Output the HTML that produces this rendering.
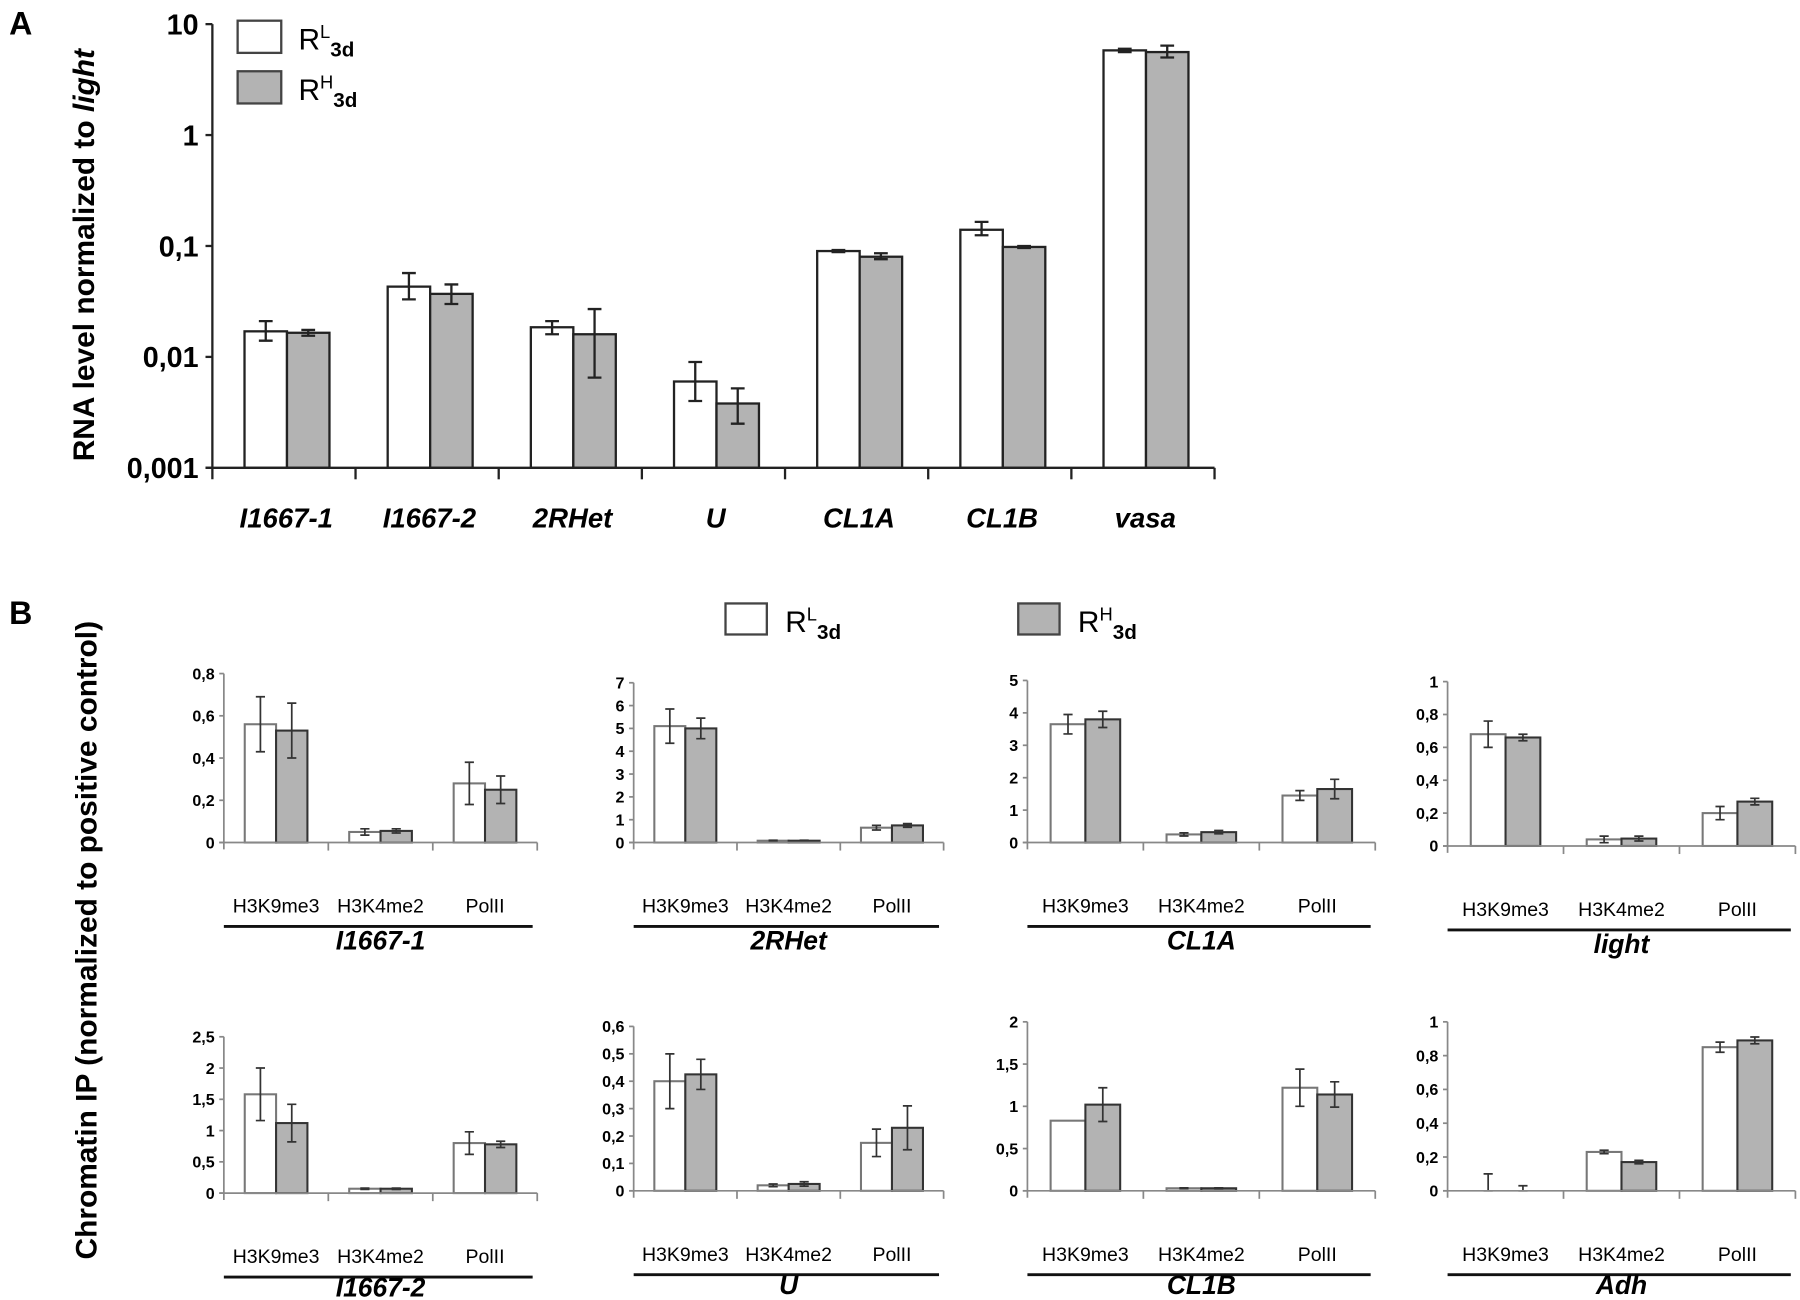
<!DOCTYPE html>
<html><head><meta charset="utf-8"><style>
html,body{margin:0;padding:0;background:#fff}
svg{display:block}
text{font-family:"Liberation Sans",sans-serif}
</style></head><body>
<svg id="fig" xmlns="http://www.w3.org/2000/svg" width="1800" height="1300" viewBox="0 0 1568 1131" preserveAspectRatio="none">
<text x="8" y="30" font-size="28" font-weight="bold">A</text>
<text x="8" y="543" font-size="28" font-weight="bold">B</text>
<g id="pa"></g>
<g id="pb"></g>
</svg>
<script>
// ---- Panel A data ----
const catsA = ["I1667-1","I1667-2","2RHet","U","CL1A","CL1B","vasa"];
const aL = [0.017,0.043,0.0185,0.006,0.09,0.14,5.8];
const aH = [0.0165,0.037,0.016,0.0038,0.08,0.098,5.6];
const aLlo = [0.014,0.033,0.016,0.004,0.088,0.125,5.6];
const aLhi = [0.021,0.057,0.021,0.009,0.092,0.165,6.0];
const aHlo = [0.0155,0.03,0.0065,0.0025,0.076,0.096,5.0];
const aHhi = [0.0175,0.045,0.027,0.0052,0.086,0.1,6.4];
const aTicks = [10,1,0.1,0.01,0.001];
const aTickLabels = ["10","1","0,1","0,01","0,001"];

// ---- Panel B data ----
const bGenes = ["I1667-1","2RHet","CL1A","light","I1667-2","U","CL1B","Adh"];
const bMarks = ["H3K9me3","H3K4me2","PolII"];
const bMax = [0.8,7,5,1,2.5,0.6,2,1];
const bStep = [0.2,1,1,0.2,0.5,0.1,0.5,0.2];
const bL = [[0.56,0.05,0.28],[5.1,0.08,0.65],[3.65,0.25,1.45],[0.68,0.04,0.2],[1.58,0.07,0.8],[0.4,0.02,0.175],[0.83,0.03,1.22],[0,0.23,0.85]];
const bH = [[0.53,0.055,0.25],[5.0,0.08,0.75],[3.8,0.32,1.65],[0.66,0.045,0.27],[1.12,0.07,0.78],[0.425,0.025,0.23],[1.02,0.03,1.14],[0,0.17,0.89]];
const bLe = [[0.13,0.015,0.1],[0.75,0.02,0.1],[0.3,0.05,0.15],[0.08,0.02,0.04],[0.42,0.01,0.18],[0.1,0.005,0.05],[0,0.005,0.22],[0.1,0.01,0.03]];
const bHe = [[0.13,0.01,0.065],[0.45,0.02,0.08],[0.25,0.05,0.3],[0.02,0.015,0.02],[0.3,0.01,0.05],[0.055,0.008,0.08],[0.2,0.005,0.15],[0.03,0.01,0.02]];

const NS="http://www.w3.org/2000/svg";
function mk(parent,tag,attrs,txt){const e=document.createElementNS(NS,tag);for(const k in attrs)e.setAttribute(k,attrs[k]);if(txt!==undefined)e.textContent=txt;parent.appendChild(e);return e;}
const GREY="#b3b3b3";

// ---- Panel A ----
(function(){
const g=document.getElementById('pa');
const ax0=185, ax1=1058, y0=407, yTop=21;
const dec=(y0-yTop)/4;
const y=v=>y0-(Math.log10(v)+3)*dec;
const cw=(ax1-ax0)/catsA.length, bw=37, off=28;
let e;
for(let i=0;i<aTicks.length;i++){
 const ty=y(aTicks[i]);
 e=mk(g,'line',{x1:ax0-6,x2:ax0,y1:ty,y2:ty,stroke:"#222","stroke-width":2});
 
 e=mk(g,'text',{x:ax0-12,y:ty+9,"font-size":25,"font-weight":"bold","text-anchor":"end"},aTickLabels[i]);
 
}
for(let i=0;i<catsA.length;i++){
 const x=ax0+i*cw+off;
 [[aL,aLlo,aLhi,"#fff",x],[aH,aHlo,aHhi,GREY,x+bw]].forEach(([arr,lo,hi,fill,bx],s)=>{
  e=mk(g,'rect',{x:bx,y:y(arr[i]),width:bw,height:y0-y(arr[i]),fill:fill,stroke:"#222","stroke-width":2});
  
  const cx=bx+bw/2;
  e=mk(g,'path',{d:`M${cx},${y(lo[i])}V${y(hi[i])}M${cx-6},${y(lo[i])}h12M${cx-6},${y(hi[i])}h12`,stroke:"#222","stroke-width":2,fill:"none"});
  
 });
 e=mk(g,'text',{x:ax0+i*cw+cw/2+2,y:459,"font-size":24,"font-weight":"bold","font-style":"italic","text-anchor":"middle"},catsA[i]);
 
 e=mk(g,'line',{x1:ax0+(i+1)*cw,x2:ax0+(i+1)*cw,y1:y0,y2:y0+10,stroke:"#222","stroke-width":2});
 
}
e=mk(g,'line',{x1:ax0,x2:ax0,y1:yTop,y2:y0+10,stroke:"#222","stroke-width":2});

e=mk(g,'line',{x1:ax0-6,x2:ax1,y1:y0,y2:y0,stroke:"#222","stroke-width":2});

const t=mk(g,'text',{transform:"translate(82,222) rotate(-90)","font-size":26,"font-weight":"bold","text-anchor":"middle"});

t.appendChild(document.createTextNode("RNA level normalized to "));
mk(t,'tspan',{"font-style":"italic"},"light");
// legend
[[18,"#fff","L"],[62,GREY,"H"]].forEach(([ly,f,s])=>{
 e=mk(g,'rect',{x:207,y:ly,width:38,height:28,fill:f,stroke:"#444","stroke-width":2});
 
 const tt=mk(g,'text',{x:260,y:ly+25,"font-size":26});
 
 tt.appendChild(document.createTextNode("R"));
 mk(tt,'tspan',{dy:-10,"font-size":16},s);
 mk(tt,'tspan',{dy:16,"font-size":18,"font-weight":"bold"},"3d");
});
})();

// ---- Panel B ----
(function(){
const g=document.getElementById('pb');
let e;
const axX=[195,552,895,1261];
const cws=[91,90,101,101];
const zeroY=[733,733,733,736,1038,1036,1036,1036];
const topY=[586,594,592,593,902,893,889,889];
const fmt=v=>(Math.round(v*10)/10).toString().replace('.',',');
for(let p=0;p<8;p++){
 const col=p%4,row=Math.floor(p/4);
 const ax=axX[col], cw=cws[col], z=zeroY[p], tp=topY[p];
 const sg=mk(g,'g',{});
 
 
 const y=v=>z-(v/bMax[p])*(z-tp);
 const n=Math.round(bMax[p]/bStep[p]);
 for(let k=0;k<=n;k++){
  const v=k*bStep[p], ty=y(v);
  e=mk(sg,'line',{x1:ax-4,x2:ax,y1:ty,y2:ty,stroke:"#888","stroke-width":1.5});
  
  e=mk(sg,'text',{x:ax-8,y:ty+5,"font-size":14,"font-weight":"bold","text-anchor":"end"},fmt(v));
  
 }
 const bw=cw*0.3;
 for(let i=0;i<3;i++){
  const c=ax+i*cw+cw/2;
  [[bL,bLe,"#fff",c-bw,"#777"],[bH,bHe,GREY,c,"#333"]].forEach(([arr,er,fill,bx,st],s)=>{
   const v=arr[p][i];
   if(v>0){
    e=mk(sg,'rect',{x:bx,y:y(v),width:bw,height:z-y(v),fill:fill,stroke:st,"stroke-width":1.8});
    
   }
   const d=er[p][i], cx=bx+bw/2;
   if(d>0){
    const lo=Math.max(0,v-d), hi=v+d;
    e=mk(sg,'path',{d:`M${cx},${y(lo)}V${y(hi)}M${cx-4},${y(lo)}h8M${cx-4},${y(hi)}h8`,stroke:"#333","stroke-width":1.5,fill:"none"});
    
   }
  });
  e=mk(sg,'line',{x1:ax+(i+1)*cw,x2:ax+(i+1)*cw,y1:z,y2:z+7,stroke:"#888","stroke-width":1.5});
  
  e=mk(sg,'text',{x:c,y:z+61,"font-size":17,"text-anchor":"middle"},bMarks[i]);
  
 }
 e=mk(sg,'line',{x1:ax,x2:ax,y1:tp,y2:z+6,stroke:"#888","stroke-width":1.5});
 
 e=mk(sg,'line',{x1:ax-4,x2:ax+3*cw,y1:z,y2:z,stroke:"#888","stroke-width":1.5});
 
 e=mk(sg,'line',{x1:ax,x2:ax+3*cw-4,y1:z+73,y2:z+73,stroke:"#111","stroke-width":2.5});
 
 e=mk(sg,'text',{x:ax+1.5*cw,y:z+(row?90:93),"font-size":23,"font-weight":"bold","font-style":"italic","text-anchor":"middle"},bGenes[p]);
 
}
// legend
[[632,"#fff","L"],[887,GREY,"H"]].forEach(([lx,f,s])=>{
 e=mk(g,'rect',{x:lx,y:525,width:36,height:27,fill:f,stroke:"#444","stroke-width":2});
 
 const tt=mk(g,'text',{x:lx+52,y:550,"font-size":26});
 
 tt.appendChild(document.createTextNode("R"));
 mk(tt,'tspan',{dy:-10,"font-size":16},s);
 mk(tt,'tspan',{dy:16,"font-size":18,"font-weight":"bold"},"3d");
});
e=mk(g,'text',{transform:"translate(84,818) rotate(-90)","font-size":26,"font-weight":"bold","text-anchor":"middle"},"Chromatin IP (normalized to positive control)");

})();
</script>
</body></html>
